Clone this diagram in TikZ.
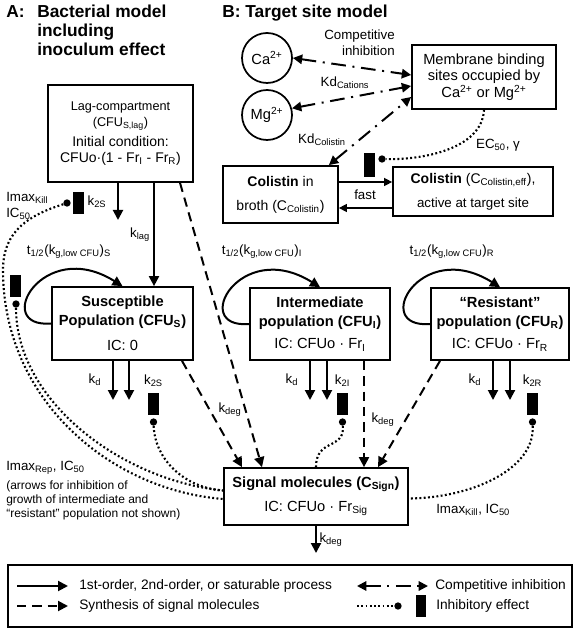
\documentclass[tikz,border=0pt]{standalone}
\usepackage{fontspec}
\setmainfont{Liberation Sans}
\usetikzlibrary{arrows.meta,calc}
\tikzstyle{box}=[draw,line width=1.3pt,align=center,inner sep=0pt]
\tikzstyle{flow}=[line width=1.5pt,-{Triangle[length=7.5pt,width=7.5pt]}]
\tikzstyle{thinflow}=[line width=1pt,-{Triangle[length=6pt,width=6pt]}]
\tikzstyle{synth}=[flow,dash pattern=on 7pt off 4.5pt]
\tikzstyle{compet}=[line width=1.5pt,{Triangle[length=7pt,width=7pt]}-{Triangle[length=7pt,width=7pt]},dash pattern=on 11pt off 5pt on 1.5pt off 5pt]
\tikzstyle{inhib}=[line width=1.6pt,dash pattern=on 1.4pt off 1.8pt]
\tikzstyle{inhdot}=[circle,fill,inner sep=0pt,minimum size=5.5pt]
\tikzstyle{inhbar}=[rectangle,fill,inner sep=0pt,minimum width=8pt,minimum height=16.5pt]
\tikzstyle{lbl}=[font=\fontsize{10}{12}\selectfont]
\tikzstyle{leglbl}=[font=\fontsize{10.3}{12}\selectfont,anchor=west]
\tikzstyle{title}=[font=\bfseries\fontsize{13}{14}\selectfont]
\newcommand{\subx}[1]{\textsubscript{#1}}
\newcommand{\supx}[1]{\textsuperscript{#1}}
\begin{document}
\begin{tikzpicture}[x=0.75pt,y=-0.75pt,every node/.style={inner sep=0pt}]
\useasboundingbox (0,0) rectangle (576,630);
% titles
\node[title,anchor=north west] (titA) at (6,5) {A:};
\node[title,anchor=north west,align=left] (titAtxt) at (37,5) {Bacterial model\\including\\inoculum effect};
\node[title,anchor=north west] (titB) at (222,5) {B: Target site model};

% A: bacterial model
\node[box,minimum width=108.75pt,minimum height=72.75pt] (lag) at (120.5,133.5)
  {{\fontsize{9.5}{13.5}\selectfont Lag-compartment}\\{\fontsize{9.5}{13.5}\selectfont (CFU\subx{S,lag})}\\[3.5pt]
   {\fontsize{10.5}{13.5}\selectfont Initial condition:}\\{\fontsize{10.5}{13.5}\selectfont CFUo·(1 - Fr\subx{I} - Fr\subx{R})}};
\node[box,minimum width=105.75pt,minimum height=54.75pt,font=\fontsize{11}{14}\selectfont] (susc) at (122.5,323.5)
  {\textbf{Susceptible}\\\textbf{Population (CFU\subx{S})}\\[5pt]IC: 0};
\node[box,minimum width=105pt,minimum height=54pt,font=\fontsize{11}{14}\selectfont] (inter) at (320,324)
  {\textbf{Intermediate}\\\textbf{population (CFU\subx{I})}\\[3pt]IC: CFUo · Fr\subx{I}};
\node[box,minimum width=103.5pt,minimum height=54pt,font=\fontsize{11}{14}\selectfont] (resi) at (500,324)
  {\textbf{“Resistant”}\\\textbf{population (CFU\subx{R})}\\[3pt]IC: CFUo · Fr\subx{R}};
\node[box,minimum width=138pt,minimum height=42.75pt,font=\fontsize{11}{14}\selectfont] (sig) at (316,496.5)
  {\textbf{Signal molecules (C\subx{Sign})}\\[4pt]IC: CFUo · Fr\subx{Sig}};

\coordinate (k2Send) at (118,220);
\draw[flow] (lag.south -| 118,0) -- (k2Send);
\draw[flow] (lag.south -| 154,0) -- (susc.north -| 154,0);
\node[lbl] (k2Slag) at (97,202) {k\subx{2S}};
\node[lbl] (klag) at (140,235) {k\subx{lag}};
\node[lbl,anchor=west,align=left,text depth=0pt] (imaxk) at (6,205) {Imax\subx{Kill}\\IC\subx{50}};
\node[inhbar] (lagbar) at (78.5,203) {};
\node[inhdot] (lagdot) at (67,203) {};

% growth loops
\foreach \b/\lx/\n in {susc/69/S,inter/262/I,resi/452/R} {
  \draw[flow] (\b.west) .. controls +(-60,5) and +(-80,-50) .. (\b.north);
  \node[lbl] (t\b) at (\lx,252) {t\subx{1/2}(k\subx{g,low CFU})\subx{\n}};
}
\node[inhbar] (growbar) at (15.5,286) {};
\node[inhdot] (growdot) at (16,304) {};

% death and kill
\foreach \b/\xa/\xb/\xk/\n in {susc/113/129/153.5/S,inter/310/327/342.5/I,resi/493/510/532.5/R} {
  \coordinate (\b kd) at (\xa,400);
  \coordinate (\b kk) at (\xb,400);
  \draw[flow] (\b.south -| \b kd) -- (\b kd);
  \draw[flow] (\b.south -| \b kk) -- (\b kk);
  \node[lbl] (\b kdl) at (\xa-18,380) {k\subx{d}};
  \node[lbl] (\b k2l) at (\xk,381) {k\subx{2\n}};
  \node[inhbar] (\b bar) at (\xk,404) {};
  \node[inhdot] (\b dot) at (\xk,422) {};
}

% synthesis of signal molecules
\draw[synth] (lag.south -| 180,0) -- ($(sig.north)+(-54,0)$);
\draw[synth] (susc.south -| 182,0) -- ($(sig.north)+(-74,0)$);
\draw[synth] (inter.south -| 364,0) -- (sig.north -| 364,0);
\draw[synth] (resi.south -| 440,0) -- ($(sig.north)+(62,0)$);
\node[lbl] (kdegS) at (230,410) {k\subx{deg}};
\node[lbl] (kdegI) at (383,420) {k\subx{deg}};
\coordinate (sigout) at (316,553);
\draw[flow] (sig.south) -- (sigout);
\node[lbl] (kdegout) at (331,540) {k\subx{deg}};

% inhibition by signal molecules
\draw[inhib] (lagdot) .. controls (30,215) and (3,230) .. (3,270) .. controls (3,400) and (110,490) .. ($(sig.west)+(0,2.5)$);
\draw[inhib] (growdot) .. controls (16,400) and (120,480) .. ($(sig.west)+(0,-6)$);
\draw[inhib] (suscdot) .. controls (155,460) and (185,488) .. ($(sig.west)+(0,-6)$);
\draw[inhib] (interdot) .. controls (345,450) and (316,438) .. (sig.north);
\draw[inhib] (residot) .. controls (535,470) and (470,498) .. ($(sig.east)+(0,2)$);
\node[lbl,anchor=west] (imaxrep) at (6,468) {Imax\subx{Rep}, IC\subx{50}};
\node[anchor=north west,align=left,font=\fontsize{9}{10.5}\selectfont] (note) at (6,481)
  {(arrows for inhibition of\\growth of intermediate and\\“resistant” population not shown)};
\node[lbl,anchor=west] (imaxkr) at (436,510) {Imax\subx{Kill}, IC\subx{50}};

% B: target site model
\node[draw,circle,line width=1.3pt,minimum size=37.5pt,font=\fontsize{11}{13}\selectfont] (ca) at (267,58) {Ca\supx{2+}};
\node[draw,circle,line width=1.3pt,minimum size=37.5pt,font=\fontsize{11}{13}\selectfont] (mg) at (267,115) {Mg\supx{2+}};
\node[box,minimum width=108pt,minimum height=48pt,font=\fontsize{11}{12.4}\selectfont] (mem) at (484,77)
  {Membrane binding\\sites occupied by\\Ca\supx{2+} or Mg\supx{2+}};
\node[box,minimum width=86.25pt,minimum height=42.75pt,font=\fontsize{10.5}{18}\selectfont] (broth) at (280.5,194.5)
  {\textbf{Colistin} in\\broth (C\subx{Colistin})};
\node[box,minimum width=120pt,minimum height=36.75pt,font=\fontsize{10.5}{18}\selectfont] (eff) at (473,191.5)
  {\textbf{Colistin} (C\subx{Colistin,eff}),\\{\fontsize{10}{18}\selectfont active at target site}};
\draw[compet] (ca.east) -- ($(mem.west)+(0,-2)$);
\draw[compet] (mg.15) -- ($(mem.west)+(0,9)$);
\draw[compet] ($(broth.north east)+(-10,0)$) -- ($(mem.west)+(0,20)$);
\node[lbl,align=right,anchor=east] (compet) at (395,43) {Competitive\\inhibition};
\node[lbl] (kdcat) at (345,83) {Kd\subx{Cations}};
\node[lbl] (kdcol) at (322,140) {Kd\subx{Colistin}};
\draw[thinflow] ($(broth.east)+(0,-12.5)$) -- ($(eff.west)+(0,-9.5)$);
\draw[thinflow] ($(eff.west)+(0,16.5)$) -- ($(broth.east)+(0,13.5)$);
\node[lbl] (fast) at (365,195) {fast};
\node[inhbar,minimum height=18pt] (colbar) at (369.5,165) {};
\node[inhdot] (coldot) at (382,159) {};
\draw[inhib] (mem.south) .. controls (482,150) and (420,160) .. (coldot);
\node[lbl] (ec50) at (498,145) {EC\subx{50}, γ};

% legend
\node[draw,line width=1pt,minimum width=423pt,minimum height=46.5pt] (legend) at (290,596) {};
\coordinate (la1) at (17,586); \coordinate (lb1) at (68,586);
\coordinate (la2) at (17,606); \coordinate (lb2) at (68,606);
\coordinate (la3) at (357,586); \coordinate (lb3) at (428,586);
\coordinate (la4) at (357,606);
\draw[flow] (la1) -- (lb1);
\draw[synth] (la2) -- (lb2);
\draw[compet] (la3) -- (lb3);
\node[inhdot] (legdot) at (398,606) {};
\draw[inhib] (la4) -- (legdot);
\node[inhbar] (legbar) at (421,606) {};
\node[leglbl] (leg1) at (79,586) {1st-order, 2nd-order, or saturable process};
\node[leglbl] (leg2) at (79,606) {Synthesis of signal molecules};
\node[leglbl] (leg3) at (435,586) {Competitive inhibition};
\node[leglbl] (leg4) at (436,606) {Inhibitory effect};
\end{tikzpicture}
\end{document}
